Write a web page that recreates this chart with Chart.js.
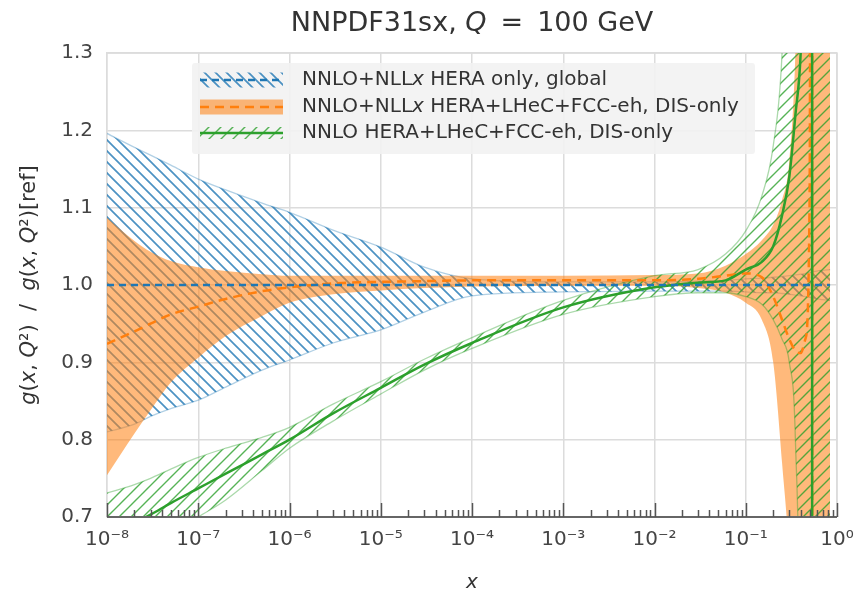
<!DOCTYPE html>
<html lang="en">
<head>
  <meta charset="UTF-8" />
  <title>NNPDF31sx gluon ratio</title>
  <script src="https://cdn.jsdelivr.net/npm/chart.js"></script>
  <style>
    html, body { margin: 0; padding: 0; background: #fff; }
    #wrap { width: 856px; height: 590px; }
  </style>
</head>
<body>
  <div id="wrap"><canvas id="ratioChart" width="856" height="590"></canvas></div>

  <script>
    // x sample points
    const xs = [1e-8, 2e-8, 3e-8, 5e-8, 1e-7, 2e-7, 5e-7, 1e-6, 3e-6, 1e-5, 3e-5, 1e-4, 1e-3, 1e-2, 3e-2,
                0.06, 0.1, 0.15, 0.2, 0.25, 0.3, 0.35, 0.4, 0.45, 0.5, 0.51, 0.53, 0.54, 0.6, 0.7, 0.84];

    // NNLO+NLLx HERA only, global (reference)
    const blueUp  = [1.196, 1.178, 1.168, 1.155, 1.137, 1.123, 1.106, 1.094, 1.071, 1.049, 1.023, 1.008, 1.004, 1.004, 1.005,
                     1.006, 1.008, 1.009, 1.010, 1.011, 1.012, 1.013, 1.014, 1.015, 1.016, 1.016, 1.017, 1.017, 1.018, 1.019, 1.020];
    const blueLow = [0.810, 0.820, 0.830, 0.840, 0.851, 0.868, 0.890, 0.903, 0.925, 0.942, 0.965, 0.986, 0.991, 0.992, 0.992,
                     0.992, 0.991, 0.990, 0.990, 0.989, 0.988, 0.987, 0.986, 0.985, 0.984, 0.984, 0.983, 0.983, 0.982, 0.981, 0.980];
    const blueMidX = [1e-8, 0.84];
    const blueMid  = [1.0, 1.0];

    // NNLO+NLLx HERA+LHeC+FCC-eh, DIS-only
    const orangeUp  = [1.087, 1.057, 1.043, 1.031, 1.023, 1.018, 1.014, 1.012, 1.012, 1.012, 1.012, 1.012, 1.012, 1.013, 1.015,
                       1.025, 1.040, 1.058, 1.078, 1.110, 1.160, 1.300, 1.600, 2.000, 2.500, 2.500, 2.500, 2.500, 2.500, 2.500, 2.500];
    const orangeLow = [0.754, 0.808, 0.838, 0.874, 0.906, 0.934, 0.960, 0.977, 0.988, 0.993, 0.996, 0.998, 0.999, 0.999, 0.996,
                       0.990, 0.977, 0.955, 0.900, 0.770, 0.640, 0.400, 0.000, -0.50, -1.00, -1.00, -1.00, -1.00, -1.00, -1.00, -1.00];
    const orangeMid = [0.924, 0.940, 0.950, 0.962, 0.972, 0.982, 0.992, 0.997, 1.002, 1.004, 1.005, 1.006, 1.006, 1.006, 1.008,
                       1.012, 1.015, 1.010, 0.985, 0.955, 0.930, 0.915, 0.912, 0.930, 1.100, 1.600, 5.000, -4.00, -4.00, -4.00, -4.00];

    // NNLO HERA+LHeC+FCC-eh, DIS-only
    const greenUp  = [0.731, 0.742, 0.750, 0.762, 0.777, 0.789, 0.803, 0.816, 0.846, 0.875, 0.904, 0.932, 0.980, 1.012, 1.020,
                      1.040, 1.070, 1.115, 1.180, 1.300, 1.600, 2.500, 3.000, 3.000, 3.000, 3.000, 3.000, 3.000, 3.000, 3.000, 3.000];
    const greenLow = [0.615, 0.638, 0.655, 0.677, 0.700, 0.722, 0.760, 0.789, 0.824, 0.859, 0.890, 0.918, 0.962, 0.985, 0.990,
                      0.990, 0.985, 0.975, 0.955, 0.930, 0.900, 0.800, 0.400, -1.00, -1.00, -1.00, -1.00, -1.00, -1.00, -1.00, -1.00];
    const greenMid = [0.673, 0.692, 0.703, 0.718, 0.737, 0.756, 0.781, 0.800, 0.834, 0.867, 0.897, 0.925, 0.971, 0.997, 1.003,
                      1.006, 1.020, 1.030, 1.050, 1.090, 1.140, 1.220, 1.300, 1.500, 2.000, 2.500, 5.000, -5.00, -5.00, -5.00, -5.00];

    const yTicks = [0.7, 0.8, 0.9, 1.0, 1.1, 1.2, 1.3];

    const FONT = '"DejaVu Sans", "Liberation Sans", sans-serif';
    const TXT = '#333';
    const BLUE = '#1f77b4', ORANGE = '#ff7f0e', GREEN = '#2ca02c';

    function hatch(color, width, size, back) {
      const c = document.createElement('canvas');
      c.width = c.height = size;
      const g = c.getContext('2d');
      g.strokeStyle = color;
      g.lineWidth = width;
      g.beginPath();
      if (back) {
        g.moveTo(-2, -2); g.lineTo(size + 2, size + 2);
        g.moveTo(-2, size - 2); g.lineTo(2, size + 2);
        g.moveTo(size - 2, -2); g.lineTo(size + 2, 2);
      } else {
        g.moveTo(-2, size + 2); g.lineTo(size + 2, -2);
        g.moveTo(-2, 2); g.lineTo(2, -2);
        g.moveTo(size - 2, size + 2); g.lineTo(size + 2, size - 2);
      }
      g.stroke();
      return g.createPattern(c, 'repeat');
    }

    const bluePat = hatch('rgba(31,119,180,0.8)', 1.7, 11, true);
    const greenPat = hatch('rgba(44,160,44,0.8)', 1.4, 12, false);
    const orangeFill = 'rgba(255,127,14,0.55)';

    const pts = (ys, xv = xs) => ys.map((y, i) => ({ x: xv[i], y }));
    const isDecade = v => Math.abs(Math.log10(v) - Math.round(Math.log10(v))) < 1e-6;
    const SUP = { '-': '⁻', '0': '⁰', '1': '¹', '2': '²', '3': '³', '4': '⁴', '5': '⁵', '6': '⁶', '7': '⁷', '8': '⁸', '9': '⁹' };
    const supLabel = v => '10' + String(Math.round(Math.log10(v))).split('').map(ch => SUP[ch]).join('');

    function richWidth(ctx, parts, size) {
      let w = 0;
      parts.forEach(([t, it]) => { ctx.font = (it ? 'italic ' : '') + size + 'px ' + FONT; w += ctx.measureText(t).width; });
      return w;
    }
    function drawRich(ctx, parts, x, y, size, align) {
      const w = richWidth(ctx, parts, size);
      let cx = align === 'left' ? x : x - w / 2;
      ctx.textBaseline = 'middle';
      ctx.textAlign = 'left';
      parts.forEach(([t, it]) => {
        ctx.font = (it ? 'italic ' : '') + size + 'px ' + FONT;
        ctx.fillText(t, cx, y);
        cx += ctx.measureText(t).width;
      });
    }

    const decorPlugin = {
      id: 'decor',
      beforeDatasetsDraw(chart) {
        const { ctx, chartArea: a } = chart;
        ctx.save();
        ctx.strokeStyle = '#dcdcdc';
        ctx.lineWidth = 1.5;
        ctx.beginPath();
        ctx.moveTo(a.left, a.top); ctx.lineTo(a.right, a.top); ctx.lineTo(a.right, a.bottom);
        ctx.stroke();
        ctx.restore();
      },
      afterDraw(chart) {
        const { ctx, chartArea: a } = chart;
        const xs_ = chart.scales.x;
        ctx.save();

        // bottom axis line + inward ticks
        ctx.strokeStyle = '#666';
        ctx.lineWidth = 2;
        ctx.beginPath();
        ctx.moveTo(a.left, a.bottom); ctx.lineTo(a.right, a.bottom);
        ctx.stroke();
        ctx.lineWidth = 1.5;
        ctx.strokeStyle = '#555';
        xs_.ticks.forEach(t => {
          const px = Math.round(xs_.getPixelForValue(t.value)) + 0.5;
          const len = isDecade(t.value) ? 14 : 7;
          ctx.beginPath();
          ctx.moveTo(px, a.bottom); ctx.lineTo(px, a.bottom - len);
          ctx.stroke();
        });

        // legend
        const L = { x: 192, y: 63, w: 563, h: 91 };
        ctx.fillStyle = 'rgba(242,242,242,0.9)';
        ctx.beginPath();
        ctx.roundRect(L.x, L.y, L.w, L.h, 3);
        ctx.fill();
        const hx = 200, hw = 83, rows = [80, 107, 133];

        ctx.fillStyle = bluePat;
        ctx.fillRect(hx, rows[0] - 7.5, hw, 15);
        ctx.strokeStyle = BLUE; ctx.lineWidth = 2.5; ctx.setLineDash([7, 5]);
        ctx.beginPath(); ctx.moveTo(hx, rows[0]); ctx.lineTo(hx + hw, rows[0]); ctx.stroke();

        ctx.fillStyle = orangeFill;
        ctx.fillRect(hx, rows[1] - 7.5, hw, 15);
        ctx.strokeStyle = ORANGE; ctx.setLineDash([9, 6]);
        ctx.beginPath(); ctx.moveTo(hx, rows[1]); ctx.lineTo(hx + hw, rows[1]); ctx.stroke();

        ctx.fillStyle = greenPat;
        ctx.fillRect(hx, rows[2] - 6, hw, 12);
        ctx.strokeStyle = GREEN; ctx.setLineDash([]);
        ctx.beginPath(); ctx.moveTo(hx, rows[2]); ctx.lineTo(hx + hw, rows[2]); ctx.stroke();

        ctx.fillStyle = TXT;
        drawRich(ctx, [['NNLO+NLL', false], ['x', true], [' HERA only, global', false]], 302, rows[0], 20, 'left');
        drawRich(ctx, [['NNLO+NLL', false], ['x', true], [' HERA+LHeC+FCC-eh, DIS-only', false]], 302, rows[1], 20, 'left');
        drawRich(ctx, [['NNLO HERA+LHeC+FCC-eh, DIS-only', false]], 302, rows[2], 20, 'left');

        // title
        drawRich(ctx, [['NNPDF31sx, ', false], ['Q', true], [' \u2009=\u2009 100 GeV', false]], (a.left + a.right) / 2, 24, 27);

        // axis titles
        drawRich(ctx, [['x', true]], (a.left + a.right) / 2, 583, 20);
        ctx.translate(30, (a.top + a.bottom) / 2);
        ctx.rotate(-Math.PI / 2);
        drawRich(ctx, [['g', true], ['(', false], ['x', true], [', ', false], ['Q', true], ['²', false], [')  /  ', false],
                       ['g', true], ['(', false], ['x', true], [', ', false], ['Q', true], ['²', false], [')[ref]', false]], 0, 0, 21);
        ctx.restore();
      }
    };

    const band = (data, color, fill, order) => ({
      data, order, fill: fill ? '+1' : false,
      backgroundColor: fill || 'rgba(0,0,0,0)',
      borderColor: color, borderWidth: 1.3,
      pointRadius: 0, cubicInterpolationMode: 'monotone'
    });

    new Chart(document.getElementById('ratioChart'), {
      type: 'line',
      data: {
        datasets: [
          band(pts(blueUp), 'rgba(31,119,180,0.35)', bluePat, 9),
          band(pts(blueLow), 'rgba(31,119,180,0.35)', null, 8),
          band(pts(orangeUp), 'rgba(0,0,0,0)', orangeFill, 7),
          band(pts(orangeLow), 'rgba(0,0,0,0)', null, 6),
          band(pts(greenUp), 'rgba(44,160,44,0.4)', greenPat, 5),
          band(pts(greenLow), 'rgba(44,160,44,0.4)', null, 4),
          { data: pts(orangeMid), order: 3, borderColor: ORANGE, borderWidth: 2.5, borderDash: [9, 6],
            pointRadius: 0, fill: false, cubicInterpolationMode: 'monotone' },
          { data: pts(greenMid), order: 2, borderColor: GREEN, borderWidth: 2.5,
            pointRadius: 0, fill: false, cubicInterpolationMode: 'monotone' },
          { data: pts(blueMid, blueMidX), order: 1, borderColor: BLUE, borderWidth: 2.5, borderDash: [7, 5],
            pointRadius: 0, fill: false }
        ]
      },
      options: {
        responsive: false,
        animation: false,
        layout: { padding: { left: 0, right: 19, top: 53, bottom: 0 } },
        plugins: { legend: { display: false }, tooltip: { enabled: false }, title: { display: false } },
        scales: {
          x: {
            type: 'logarithmic', min: 1e-8, max: 1,
            afterBuildTicks(scale) {
              const t = [];
              for (let e = -8; e <= 0; e++) {
                for (let m = 1; m <= 9; m++) {
                  const v = m * Math.pow(10, e);
                  if (v <= 1.0000001) t.push({ value: v });
                }
              }
              scale.ticks = t;
            },
            afterFit(scale) { scale.height = 73; scale.paddingLeft = 0; scale.paddingRight = 0; },
            grid: {
              drawTicks: false, lineWidth: 1.5,
              color: c => (c.tick && isDecade(c.tick.value)) ? '#dcdcdc' : 'rgba(0,0,0,0)'
            },
            border: { display: false },
            ticks: {
              autoSkip: false, maxRotation: 0, padding: 11, color: '#444',
              font: { family: FONT, size: 20 },
              callback: v => isDecade(v) ? supLabel(v) : ''
            }
          },
          y: {
            min: 0.7, max: 1.3,
            afterBuildTicks(scale) { scale.ticks = yTicks.map(v => ({ value: v })); },
            afterFit(scale) { scale.width = 107; scale.paddingTop = 0; scale.paddingBottom = 0; },
            grid: { drawTicks: false, color: '#dcdcdc', lineWidth: 1.5 },
            border: { color: '#dcdcdc', width: 1.5 },
            ticks: { padding: 14, color: '#444', font: { family: FONT, size: 20 }, callback: v => v.toFixed(1) }
          }
        }
      },
      plugins: [decorPlugin]
    });
  </script>
</body>
</html>
